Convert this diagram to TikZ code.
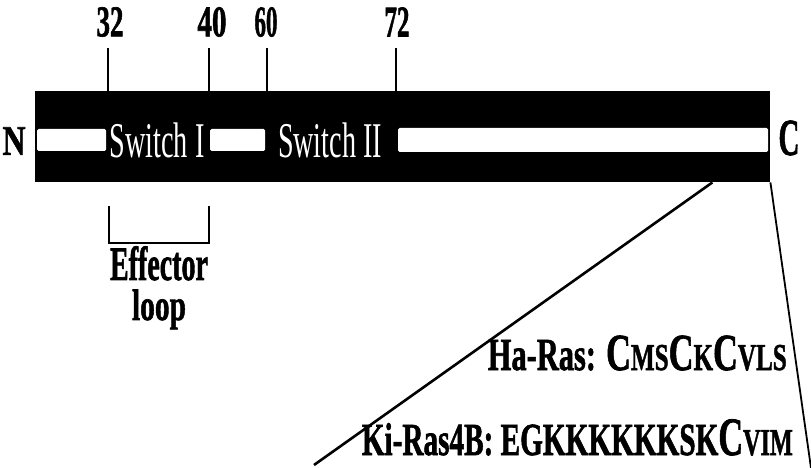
\documentclass[tikz,border=0pt]{standalone}
\usepackage{fontspec}
\setmainfont{Liberation Serif}[BoldFeatures={FakeBold=1.5}]
\usepackage{graphicx}
\newcommand{\fs}[1]{\fontsize{#1}{#1}\selectfont}
% squeeze text horizontally to a given width
\newcommand{\squeeze}[2]{\resizebox{#1}{\height}{#2}}
\begin{document}
\begin{tikzpicture}[x=1pt,y=-1pt,
  lbl/.style={inner sep=0pt, font=\bfseries},
  tickline/.style={line width=1.5pt},
  stripe/.style={fill=white, rounded corners=1.5pt},
  sw/.style={text=white, inner sep=0pt}]
\useasboundingbox (0,0) rectangle (811,468);

% protein bar
\node[fill=black, minimum width=735pt, minimum height=91pt, inner sep=0pt,
      anchor=north west] (bar) at (35,91) {};
\fill[stripe] (37,129) rectangle (106,151);
\fill[stripe] (210,129) rectangle (265,151);
\fill[stripe] (398,128) rectangle (768,152);
\node[sw] (sw1) at (157,140) {\squeeze{95pt}{\fs{50}Switch I}};
\node[sw] (sw2) at (330,140) {\squeeze{104pt}{\fs{50}Switch II}};

% termini
\node[lbl] (N) at (14,141) {\squeeze{23pt}{\fs{42}N}};
\node[lbl] (C) at (789,138) {\squeeze{21pt}{\fs{52}C}};

% residue numbers and ticks
\node[lbl] (n32) at (110,22) {\squeeze{27pt}{\fs{44}32}};
\node[lbl] (n40) at (212,22) {\squeeze{29pt}{\fs{44}40}};
\node[lbl] (n60) at (266,22) {\squeeze{23pt}{\fs{44}60}};
\node[lbl] (n72) at (397,22) {\squeeze{25pt}{\fs{44}72}};
\coordinate (t32) at (108,48);
\coordinate (t40) at (209,48);
\coordinate (t60) at (267,48);
\coordinate (t72) at (396,48);
\foreach \t in {t32,t40,t60,t72}
  \draw[tickline] (\t) -- (\t |- bar.north);

% effector loop bracket and its two-line label
\coordinate (b1) at (109,206);
\coordinate (b2) at (209,206);
\draw[tickline] (b1) -- ++(0,37) -| (b2);
\node[lbl, anchor=north, align=center,
      font={\bfseries\fontsize{44}{40}\selectfont}] (eff) at (159,246)
  {\squeeze{98pt}{\fs{48}Effector}\\\squeeze{54pt}{\fs{44}loop}};

% zoom-out lines from the C-terminal end
\coordinate (zl) at (314,465);
\coordinate (zr) at (811,468);
\draw[line width=2.6pt] (bar.south east) ++(-58,0) -- (zl);
\draw[line width=1.8pt] (bar.south east) -- (zr);

% C-terminal sequences
\node[lbl, anchor=base east] (ha) at (787,370)
  {\squeeze{299pt}{\fs{46}Ha-Ras: {\fs{52}C}{\fs{38}MS}{\fs{52}C}{\fs{38}K}{\fs{52}C}{\fs{38}VLS}}};
\node[lbl, anchor=base east] (ki) at (793,455)
  {\squeeze{431pt}{\fs{46}Ki-Ras4B: EGKKKKKKSK{\fs{54}C}{\fs{38}VIM}}};
\end{tikzpicture}
\end{document}
